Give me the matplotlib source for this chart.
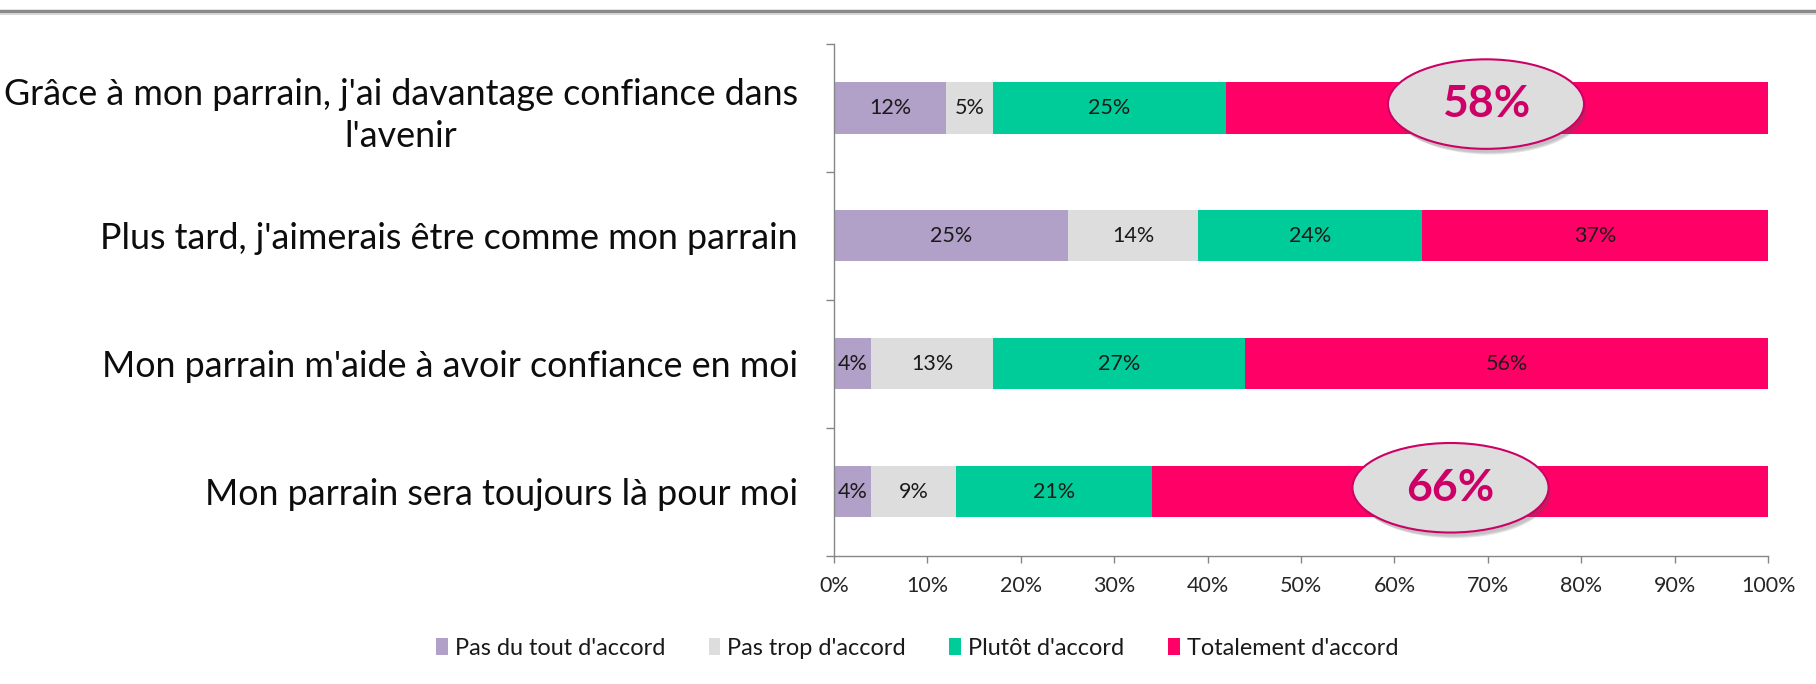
import matplotlib
matplotlib.use("Agg")
import matplotlib.pyplot as plt
from matplotlib.patches import Ellipse, Patch
from matplotlib.lines import Line2D
import numpy as np

plt.rcParams['font.family'] = ['Lato', 'DejaVu Sans']

categories = [
    "Grâce à mon parrain, j'ai davantage confiance dans\nl'avenir",
    "Plus tard, j'aimerais être comme mon parrain",
    "Mon parrain m'aide à avoir confiance en moi",
    "Mon parrain sera toujours là pour moi",
]
series_names = ["Pas du tout d'accord", "Pas trop d'accord", "Plutôt d'accord", "Totalement d'accord"]
pas_du_tout = [12, 25, 4, 4]
pas_trop = [5, 14, 13, 9]
plutot = [25, 24, 27, 21]
totalement = [58, 37, 56, 66]
xticks = [0, 10, 20, 30, 40, 50, 60, 70, 80, 90, 100]
xticklabels = ["0%", "10%", "20%", "30%", "40%", "50%", "60%", "70%", "80%", "90%", "100%"]
callout_rows = [0, 3]  # rows highlighted with a bubble

colors = ["#B1A0C7", "#DDDDDD", "#00CC99", "#FF0066"]
series = [pas_du_tout, pas_trop, plutot, totalement]

fig = plt.figure(figsize=(18.16, 6.84), dpi=100)
ax = fig.add_axes([0.4593, 0.1878, 0.9736 - 0.4593, 0.9357 - 0.1878])

y = np.arange(len(categories))
left = np.zeros(len(categories))
for vals, col, name in zip(series, colors, series_names):
    vals = np.array(vals, dtype=float)
    bars = ax.barh(y, vals, left=left, height=0.4, color=col, label=name, zorder=2)
    for i, (b, v) in enumerate(zip(bars, vals)):
        if name == series_names[3] and i in callout_rows:
            continue
        ax.text(left[i] + v / 2, y[i], f"{int(v)}%", ha='center', va='center',
                fontsize=15.5, color='#1a1a1a', zorder=3)
    left += vals

ax.set_xlim(0, 100)
ax.set_ylim(len(categories) - 0.5, -0.5)

# callout bubbles
bubble_x = {0: 69.8, 3: 66.0}
for r in callout_rows:
    cx, cy = bubble_x[r], y[r] - 0.03
    for k, a in enumerate([0.12, 0.12, 0.15]):
        sh = Ellipse((cx + 0.25 + 0.1 * k, cy + 0.03 + 0.012 * k), 21 - 0.3 * k, 0.70 - 0.01 * k,
                     facecolor='#555555', alpha=a, edgecolor='none', zorder=4, clip_on=False)
        ax.add_patch(sh)
    el = Ellipse((cx, cy), 21, 0.70, facecolor='#DDDDDD', edgecolor='#CC0066',
                 linewidth=1.5, zorder=5, clip_on=False)
    ax.add_patch(el)
    ax.text(cx, cy, f"{totalement[r]}%", ha='center', va='center', fontsize=32,
            fontweight='bold', color='#CC0066', zorder=6)

# axes styling
for s in ['top', 'right']:
    ax.spines[s].set_visible(False)
for s in ['left', 'bottom']:
    ax.spines[s].set_color('#868686')
    ax.spines[s].set_linewidth(1.0)

ax.set_xticks(xticks)
ax.set_xticklabels(xticklabels, fontsize=15.5, color='#262626')
ax.tick_params(axis='x', direction='out', length=5, width=1, color='#868686', pad=10)

ax.set_yticks(np.arange(len(categories) + 1) - 0.5)
ax.set_yticklabels([])
ax.tick_params(axis='y', which='major', direction='out', length=6, width=1, color='#868686')
ax.set_yticks(y, minor=True)
ax.set_yticklabels(categories, minor=True, fontsize=25.8, color='#0d0d0d')
ax.tick_params(axis='y', which='minor', length=0, pad=26)
for t in ax.get_yticklabels(minor=True):
    t.set_multialignment('center')
    t.set_linespacing(1.35)

handles = [Patch(facecolor=c, edgecolor='none') for c in colors]
fig.legend(handles, series_names, loc='center', bbox_to_anchor=(0.505, 0.0525), ncol=4,
           frameon=False, fontsize=16.9, handlelength=0.5, handleheight=0.7,
           handletextpad=0.3, columnspacing=1.85, labelcolor='#1a1a1a')

# top border line
fig.add_artist(Line2D([0, 1], [1 - 10.5 / 684, 1 - 10.5 / 684], transform=fig.transFigure,
                      color='#8a8a8a', linewidth=2.5))
fig.add_artist(Line2D([0, 1], [1 - 13.5 / 684, 1 - 13.5 / 684], transform=fig.transFigure,
                      color='#d0d0d0', linewidth=1.2))

fig.savefig("out.png", dpi=100, facecolor='white')
